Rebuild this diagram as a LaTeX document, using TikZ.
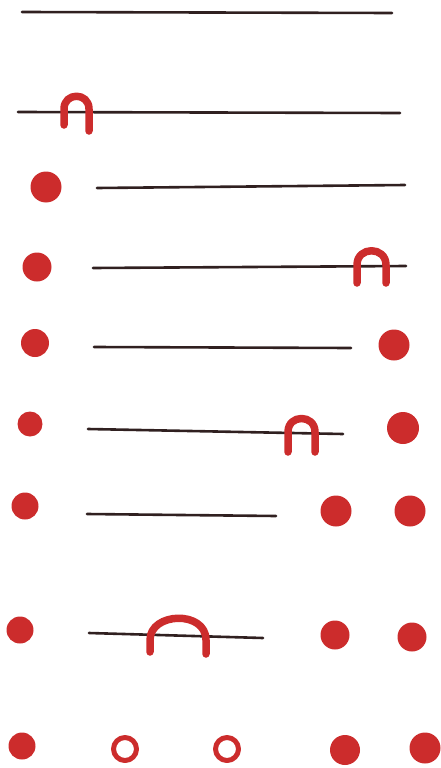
\documentclass[tikz,border=0pt]{standalone}
\usetikzlibrary{positioning}
\definecolor{inkline}{RGB}{48,32,32}
\definecolor{marker}{RGB}{204,44,44}

\begin{document}
\begin{tikzpicture}[x=1pt,y=-1pt, line cap=round, line join=round,
    strand/.style={draw=inkline, line width=2.6pt},
    loopmark/.style={draw=marker, line width=7.5pt},
    dot/.style={circle, fill=marker, inner sep=0pt, minimum size=#1},
    ring/.style={circle, draw=marker, line width=5pt, inner sep=0pt, minimum size=#1}]
    \useasboundingbox (0,0) rectangle (441,768);
    % row 1
    \draw[strand] (22,12) -- (392,13);
    % row 2
    \draw[strand] (18,112) -- (400,113);
    \draw[loopmark] (64,125) -- (64,109) .. controls (64,92) and (89,92) .. (89,109) -- (89,131);
    % row 3
    \node[dot=31pt] (r3a) at (46,187) {};
    \draw[strand] (97,188) -- (405,185);
    % row 4
    \node[dot=29pt] (r4a) at (37,267) {};
    \draw[strand] (93,268) -- (406,266);
    \draw[loopmark] (357,283) -- (357,265) .. controls (357,246) and (386,246) .. (386,265) -- (386,283);
    % row 5
    \node[dot=28pt] (r5a) at (35,343) {};
    \draw[strand] (94,347) -- (351,348);
    \node[dot=31pt] (r5b) at (394,345) {};
    % row 6
    \node[dot=25pt] (r6a) at (30,424) {};
    \draw[strand] (88,429) -- (343,434);
    \draw[loopmark] (288,452) -- (288,432) .. controls (288,414) and (315,414) .. (315,432) -- (315,452);
    \node[dot=32pt] (r6b) at (403,428) {};
    % row 7
    \node[dot=27pt] (r7a) at (25,506) {};
    \draw[strand] (87,514) -- (276,516);
    \node[dot=31pt] (r7b) at (336,511) {};
    \node[dot=31pt] (r7c) at (410,511) {};
    % row 8
    \node[dot=27pt] (r8a) at (20,630) {};
    \draw[strand] (89,633) -- (263,638);
    \draw[loopmark] (150,652) -- (150,640) .. controls (150,612) and (206,610) .. (206,640) -- (206,654);
    \node[dot=29pt] (r8b) at (335,635) {};
    \node[dot=29pt] (r8c) at (412,637) {};
    % row 9
    \node[dot=27pt] (r9a) at (22,746) {};
    \node[ring=23pt] (r9b) at (125,749) {};
    \node[ring=23pt] (r9c) at (227,749) {};
    \node[dot=30pt] (r9d) at (345,750) {};
    \node[dot=31pt] (r9e) at (425,748) {};
\end{tikzpicture}
\end{document}
